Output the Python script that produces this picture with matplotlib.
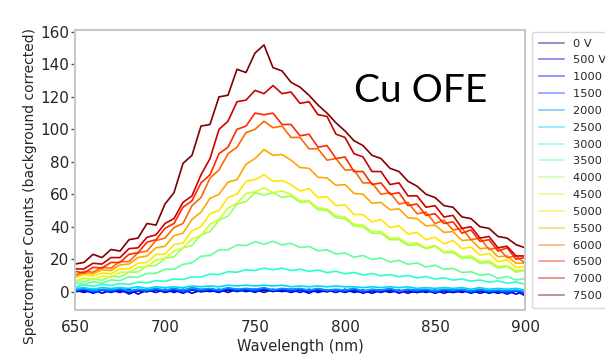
import numpy as np
import matplotlib
matplotlib.use("Agg")
import matplotlib.pyplot as plt

# ---------------- data ----------------
wavelength = np.arange(650, 901, 5)  # nm

voltages = ["0 V", "500 V", "1000 V", "1500 V", "2000 V", "2500 V", "3000 V", "3500 V",
            "4000 V", "4500 V", "5000 V", "5500 V", "6000 V", "6500 V", "7000 V", "7500 V"]

s0 = [0, 0.5, -0.5, 1, 0, 0.5, -0.5, 0.5, 0, 1, 0, 0.5, 0, 1, 0, 0.5, 0, 1, 0.5, 1,
      0, 1, 0.5, 0.5, 0, 1, 0, 0.5, 0, 1, 0, 0.5, -0.5, 0.5, 0, 0.5, 0, 0.5, -0.5, 0.5,
      0, 0.5, -0.5, 0.5, 0, 0.5, -0.5, 0, -0.5, 0.5, -1]
s500 = [1, -0.5, 1.5, -1, 1, -0.5, 1.5, -1.5, 1, -0.5, 1.5, -0.5, 1.5, -1, 1, 0, 1.5, -0.5, 1.5, 0,
        1.5, -0.5, 1.5, 0, 1.5, -0.5, 1.5, -0.5, 1, -0.5, 1.5, -0.5, 1, -1, 1, -0.5, 1, -1, 1, -0.5,
        1, -1, 1, -0.5, 1, -1, 0.5, -1, 0.5, -1.5, 0.5]
s1000 = [0, 1.5, -1, 1, -0.5, 1.5, -1.5, 1, 0, 1.5, -0.5, 1, -1, 1.5, 0, 1, -0.5, 2, 0, 1.5,
         -0.5, 2, 0, 1.5, -0.5, 1, -1, 1.5, 0, 1, -0.5, 1.5, -1, 1, -0.5, 1.5, -1, 1, -0.5, 1,
         -1, 1, -0.5, 1, -1, 1, -1, 0.5, -1.5, 0.5, -2.5]
s1500 = [0.5, 1.5, 0, 1, 0.5, 1.5, 0, 1, 0.5, 1.5, 0.5, 1.5, 0, 1.5, 0.5, 1.5, 0.5, 2, 1, 1.5,
         0.5, 2, 1, 1.5, 0.5, 1.5, 0.5, 1.5, 0.5, 1, 0.5, 1.5, 0, 1, 0.5, 1.5, 0, 1, 0.5, 1,
         0, 1, 0.5, 1, 0, 1, 0, 0.5, -0.5, 0.5, -0.5]
s2000 = [1, 2, 0.5, 1.5, 1, 2, 0.5, 1.5, 1, 2, 1, 2, 1, 2.5, 1.5, 2, 1, 2.5, 1.5, 2,
         1.5, 2.5, 1, 2, 1.5, 2, 1, 2, 1, 1.5, 1, 2, 0.5, 1.5, 1, 2, 0.5, 1.5, 1, 1.5,
         0.5, 1.5, 1, 1.5, 0.5, 1.5, 0.5, 1, 0.5, 1, 0]
s2500 = [2, 2.5, 1.5, 2.5, 2, 2.5, 2, 3, 2, 3, 2.5, 3, 2.5, 3.5, 3, 3.5, 3, 4, 3.5, 4,
         3.5, 4, 3.5, 4, 3, 3.5, 3, 3.5, 3, 3.5, 3, 3, 2.5, 3, 2.5, 3, 2.5, 3, 2, 2.5,
         2, 2.5, 2, 2.5, 1.5, 2.5, 1.5, 2, 1.5, 2, 1]
s3000 = [3, 4.2, 3.3, 4.5, 3.8, 5, 4.5, 5.8, 5.5, 6.8, 6.3, 7.8, 7.5, 9.2, 9, 10.8, 10.5, 12.3, 12, 13.5,
         13, 14.5, 13.5, 14.5, 13, 13.8, 12.5, 13.3, 11.8, 12.5, 11, 11.8, 10.3, 11.2, 9.8, 10.5, 9.2, 10,
         8.5, 9.3, 7.8, 8.5, 7.2, 7.8, 6.5, 7.2, 5.8, 6.6, 5.2, 6, 4.5]
s3500 = [5.5, 4.5, 6.2, 5.2, 7.2, 6.8, 9.2, 8.8, 11.2, 11.3, 13.8, 13.8, 16.8, 17.8, 21.8, 22.3, 25.8,
         25.8, 28.8, 28.3, 30.8, 29.2, 31, 28.8, 29.8, 27.2, 27.8, 25.2, 25.8, 23.2, 23.8, 21.2, 22.3,
         19.8, 20.8, 18.2, 19.3, 16.8, 17.8, 15.2, 16.3, 13.8, 14.3, 11.8, 12.3, 10.2, 10.8, 8.2, 9.3,
         7.2, 8]
s4000 = [7, 6, 8, 7, 9.5, 9, 12, 12, 16, 16, 20.5, 21.5, 27, 28.5, 35, 37, 44, 46.5, 54, 55.5,
         61, 59.5, 61, 58, 59, 55, 55.5, 50.5, 50, 45.5, 45, 40.5, 40, 36, 36, 32, 32, 28.5, 29, 26.5,
         28, 24, 24, 20.5, 21, 17.5, 18, 14.5, 15.5, 12, 13]
s4500 = [6.5, 8.5, 7.5, 9.5, 9, 12, 12, 15, 15.5, 19.5, 20.5, 25, 27, 32.5, 34.5, 41.5, 44.5, 51.5,
         54.5, 60.5, 61.5, 64, 61, 62, 60, 56, 56, 51.5, 51, 46.5, 46, 41.5, 41, 37, 37, 33, 33, 29.5,
         30, 27, 28.5, 24.5, 25, 21.5, 22, 18.5, 19, 15.5, 16, 13, 13.5]
s5000 = [8.5, 10.5, 9.5, 11.5, 11, 14, 14, 17.5, 18, 23, 23, 29, 30, 37.5, 40, 48, 50, 58, 60, 68,
         69, 72, 68, 68.5, 66, 62, 63.5, 58, 58.5, 53, 53.5, 47.5, 47.5, 43, 44.5, 39.5, 40.5, 35.5,
         36.5, 32, 33.5, 29.5, 31.5, 26.5, 27.5, 22.5, 23.5, 18.5, 19.5, 15, 15.5]
s5500 = [9.5, 11.5, 11, 13.5, 13, 16.5, 17, 21, 22, 27, 28, 34.5, 36, 44.5, 49, 57.5, 60, 67.5, 69,
         78.5, 82, 87.5, 84, 84.5, 81, 76.5, 76, 70.5, 70, 65.5, 66, 60.5, 60, 54.5, 55, 50.5, 51,
         45.5, 45, 40.5, 41, 36.5, 37, 31.5, 32, 26.5, 27, 21.5, 22, 17.5, 17.5]
s6000 = [10, 12.5, 12, 15, 14.5, 18.5, 18.5, 24, 25, 31.5, 33, 39.5, 42, 53, 58, 70, 75, 85, 89, 98,
         100, 105, 101, 102, 95, 95, 88, 88, 81, 82, 75, 75, 67, 67, 60, 61, 54, 55, 48, 49,
         42, 44, 38, 39, 32, 33, 26, 27, 21, 22, 17.5]
s6500 = [12.5, 11.5, 15, 14.5, 18, 18, 23, 24, 30.5, 32, 39, 42, 52, 56, 67, 72, 85, 89, 100, 102,
         110, 109, 110, 103, 103, 96, 97, 89, 90, 82, 83, 74, 74, 66, 67, 60, 61, 53, 54, 47,
         48, 42, 43, 36, 38, 31, 32, 25, 27, 20, 21]
s7000 = [14, 14, 17.5, 17, 21, 21, 26.5, 27, 33.5, 35, 42, 45, 55, 59, 72, 82, 100, 105, 117, 118,
         124, 122, 127, 122, 123, 116, 117, 109, 108, 97, 95, 85, 83, 74, 74, 66, 67, 59, 59, 52,
         53, 46, 47, 39, 40, 33, 34, 27, 28, 22, 22]
s7500 = [17, 18, 23, 21, 26, 25, 32, 33, 42, 41, 54, 61, 79, 84, 102, 103, 120, 121, 137, 135,
         147, 152, 138, 136, 129, 126, 121, 115, 110, 104, 99, 93, 90, 84, 82, 76, 74, 68, 65, 60,
         58, 53, 52, 46, 45, 40, 39, 34, 33, 29, 27]

series = [s0, s500, s1000, s1500, s2000, s2500, s3000, s3500,
          s4000, s4500, s5000, s5500, s6000, s6500, s7000, s7500]

x_ticks = [650, 700, 750, 800, 850, 900]
y_ticks = [0, 20, 40, 60, 80, 100, 120, 140, 160]

# ---------------- figure ----------------
W, H = 605, 357
fig = plt.figure(figsize=(W / 100, H / 100), dpi=100)
ax = fig.add_axes([75 / W, 1 - 310 / H, 450 / W, 280 / H])

colors = plt.cm.jet(np.linspace(0, 1, len(series)))
for lab, ys, c in zip(voltages, series, colors):
    ax.plot(wavelength, ys, color=c, lw=1.2, label=lab)

ax.set_xlim(650, 900)
ax.set_ylim(-11.3, 161.2)
ax.set_xticks(x_ticks)
ax.set_yticks(y_ticks)

for sp in ax.spines.values():
    sp.set_color("#c8c8c8")
    sp.set_linewidth(1.5)

ax.tick_params(axis="y", length=3, width=1, color="#555555", labelsize=11,
               labelcolor="#262626", pad=1)
ax.tick_params(axis="x", length=0, labelsize=11, labelcolor="#262626", pad=7)

ax.set_xlabel("Wavelength (nm)", fontsize=10.5, color="#262626", labelpad=3)
ax.set_ylabel("Spectrometer Counts (background corrected)", fontsize=10, color="#262626")
ax.yaxis.set_label_coords(-0.085, 0.443)

ax.text(354 / W, 1 - 101.7 / H, "Cu OFE", transform=fig.transFigure,
        fontsize=28, family=["Lato", "DejaVu Sans"], color="black",
        ha="left", va="baseline")

leg = ax.legend(loc="upper left", bbox_to_anchor=(532 / W, 1 - 31.7 / H),
                bbox_transform=fig.transFigure, borderaxespad=0,
                fontsize=8.2, handlelength=2.2, labelspacing=0.6, borderpad=0.6,
                frameon=True, fancybox=True, edgecolor="#d0d0d0")
for h in leg.legend_handles:
    h.set_alpha(0.5)
    h.set_linewidth(1.2)
for t in leg.get_texts():
    t.set_color("#262626")

fig.savefig("out.png", dpi=100)
